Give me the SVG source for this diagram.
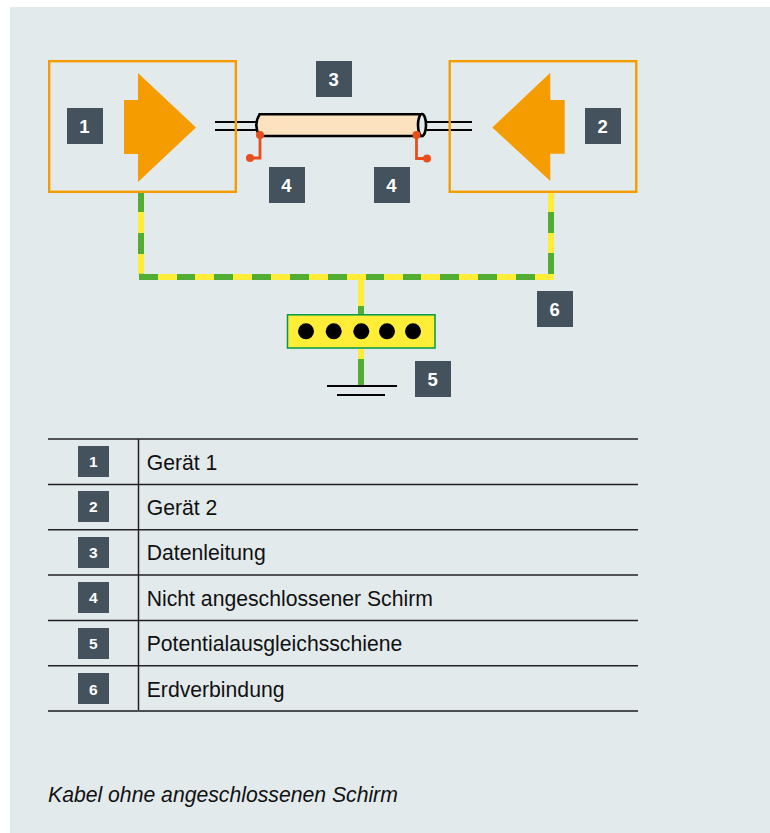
<svg xmlns="http://www.w3.org/2000/svg" width="770" height="833" viewBox="0 0 770 833">
<style>
text{font-family:"Liberation Sans",Arial,sans-serif}
.box{fill:none;stroke:#f59d00;stroke-width:2.4}
.arrow{fill:#f59d00}
.tag{fill:#44525e}
.tl{fill:#fff;font-size:18.500px;font-weight:700;text-anchor:middle}
.ts{fill:#fff;font-size:15.500px;font-weight:700;text-anchor:middle}
.row{font-size:21.200px;fill:#111}
.rule{stroke:#222;stroke-width:1.500;fill:none}
.blk{stroke:#000;stroke-width:2;fill:none}
.red{stroke:#e84e1b;stroke-width:2.800;fill:none}
.dot{fill:#e84e1b}
.gy{stroke:#ffed38;stroke-width:6;fill:none}
.gg{stroke:#52ae32;stroke-width:6;fill:none}
</style>
<rect x="10" y="7" width="760" height="826" fill="#e3eaec"/>
<g id="connectors">
<path class="blk" d="M215 122H258M215 130H258M425 122H472M425 130H472"/>
<path class="gg" d="M141 192V273.500M551 192V274M139 277H554M361 306V314M361 359V385"/>
<path class="gy" d="M141 212V233M141 254V273.500M551 192V212M551 233V253"/>
<path class="gy" d="M158 277H177M195 277H214M233 277H252M271 277H290M309 277H328M347 277H366M384 277H403M421 277H440M459 277H478M497 277H516M535 277H554"/>
<path class="gy" d="M361 280V306M361 349V359"/>
<path class="red" d="M260 135V158H250M416.500 135V158.500H427"/>
</g>
<g id="node-1"><rect class="box" x="49.200" y="61.200" width="186.600" height="130.600"/><path class="arrow" d="M124 100H138V73L196 127.500L138 182V154H124Z"/><rect class="tag" x="67" y="108" width="36" height="36"/><text class="tl" x="84.500" y="133.300">1</text></g>
<g id="node-2"><rect class="box" x="449.700" y="61.200" width="186.600" height="130.600"/><path class="arrow" d="M564.700 100H550.300V72.700L492.300 127.500L550.300 181V153.700H564.700Z"/><rect class="tag" x="585" y="108" width="36" height="36"/><text class="tl" x="602.700" y="133.300">2</text></g>
<g id="node-3"><path d="M259.500 114.300H422V136H259.500Q253 125 259.500 114.300Z" fill="#fde2c0" stroke="#000" stroke-width="2.600"/><ellipse cx="422" cy="125" rx="4" ry="11" fill="#e3eaec" stroke="#000" stroke-width="2.600"/><rect class="tag" x="316" y="61" width="36" height="36"/><text class="tl" x="333.700" y="86.300">3</text></g>
<g id="shield-left"><circle class="dot" cx="260" cy="135" r="4"/><circle class="dot" cx="250" cy="158" r="4"/><rect class="tag" x="269" y="167" width="36" height="36"/><text class="tl" x="286.500" y="192.300">4</text></g>
<g id="shield-right"><circle class="dot" cx="416.500" cy="135" r="4"/><circle class="dot" cx="427" cy="158.500" r="4"/><rect class="tag" x="374" y="167" width="36" height="36"/><text class="tl" x="391.500" y="192.300">4</text></g>
<g id="node-5"><rect x="287.500" y="314.800" width="147.500" height="33.200" fill="#ffed38" stroke="#009a44" stroke-width="1.500"/><circle cx="306" cy="331.300" r="8"/><circle cx="333.700" cy="331.300" r="8"/><circle cx="361.300" cy="331.300" r="8"/><circle cx="387" cy="331.300" r="8"/><circle cx="413" cy="331.300" r="8"/><path class="blk" d="M327 386H397M337 395H385"/><rect class="tag" x="415" y="361" width="36" height="36"/><text class="tl" x="432.700" y="386.300">5</text></g>
<g id="node-6"><rect class="tag" x="537" y="291" width="36" height="36"/><text class="tl" x="554.700" y="316.300">6</text></g>
<g id="legend">
<path class="rule" d="M48 439H638M48 484.500H638M48 529.800H638M48 575H638M48 620.500H638M48 665.800H638M138.500 439V711"/>
<path d="M48 711H638" fill="none" stroke="#4a4f52" stroke-width="2"/>
<rect class="tag" x="78" y="446" width="31" height="31"/><text class="ts" x="93.300" y="467">1</text><text class="row" x="146.700" y="470">Gerät 1</text>
<rect class="tag" x="78" y="491" width="31" height="31"/><text class="ts" x="93.300" y="512">2</text><text class="row" x="146.700" y="515">Gerät 2</text>
<rect class="tag" x="78" y="537" width="31" height="31"/><text class="ts" x="93.300" y="558">3</text><text class="row" x="146.700" y="560.300">Datenleitung</text>
<rect class="tag" x="78" y="582" width="31" height="31"/><text class="ts" x="93.300" y="603">4</text><text class="row" x="146.700" y="605.700">Nicht angeschlossener Schirm</text>
<rect class="tag" x="78" y="628" width="31" height="31"/><text class="ts" x="93.300" y="649">5</text><text class="row" x="146.700" y="650.700">Potentialausgleichsschiene</text>
<rect class="tag" x="78" y="673" width="31" height="31"/><text class="ts" x="93.300" y="694.500">6</text><text class="row" x="146.700" y="697">Erdverbindung</text>
</g>
<text x="48" y="801.700" font-size="21.200" font-style="italic" fill="#111">Kabel ohne angeschlossenen Schirm</text>
</svg>
